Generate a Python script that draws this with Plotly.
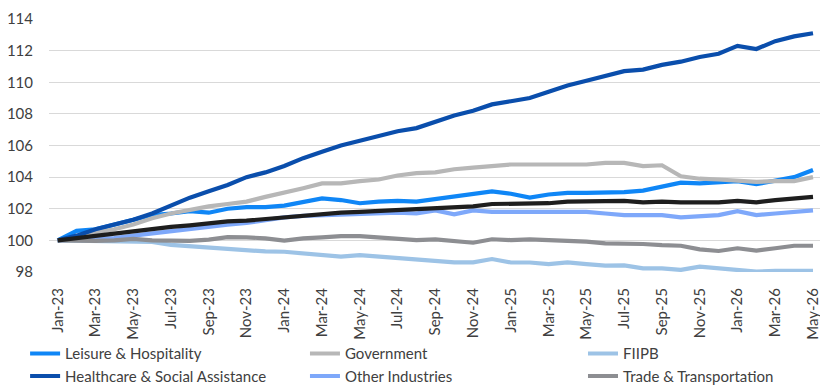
import plotly.graph_objects as go

months = ["Jan", "Feb", "Mar", "Apr", "May", "Jun", "Jul", "Aug", "Sep", "Oct", "Nov", "Dec"]
categories = [f"{months[i % 12]}-{23 + i // 12}" for i in range(41)]  # Jan-23 .. May-26
tick_labels = categories[::2]

leisure = [100.0, 100.6, 100.7, 101.0, 101.3, 101.6, 101.7, 101.85, 101.75, 102.0,
           102.1, 102.1, 102.2, 102.45, 102.65, 102.55, 102.35, 102.45, 102.5, 102.45,
           102.6, 102.75, 102.9, 103.1, 102.95, 102.7, 102.9, 103.0, 103.0, 103.0,
           103.05, 103.15, 103.4, 103.65, 103.6, 103.7, 103.75, 103.55, 103.8, 104.0, 104.45]
government = [100.0, 100.2, 100.5, 100.7, 101.0, 101.4, 101.7, 101.95, 102.15, 102.3,
              102.45, 102.75, 103.0, 103.3, 103.6, 103.6, 103.75, 103.85, 104.1, 104.25,
              104.3, 104.5, 104.6, 104.7, 104.8, 104.8, 104.8, 104.85, 104.8, 104.9,
              104.9, 104.7, 104.75, 104.05, 103.9, 103.85, 103.75, 103.7, 103.75, 103.75, 104.0]
fiipb = [100.0, 99.98, 99.98, 100.0, 99.98, 99.9, 99.72, 99.64, 99.55, 99.45,
         99.35, 99.3, 99.28, 99.18, 99.07, 98.97, 99.07, 98.97, 98.86, 98.76,
         98.67, 98.61, 98.61, 98.82, 98.6, 98.6, 98.5, 98.61, 98.5, 98.4,
         98.42, 98.23, 98.23, 98.13, 98.34, 98.23, 98.13, 98.02, 98.08, 98.08, 98.08]
healthcare = [100.0, 100.3, 100.7, 101.0, 101.3, 101.7, 102.2, 102.7, 103.1, 103.5,
              104.0, 104.3, 104.7, 105.2, 105.6, 106.0, 106.3, 106.6, 106.9, 107.1,
              107.5, 107.9, 108.2, 108.6, 108.8, 109.0, 109.4, 109.8, 110.1, 110.4,
              110.7, 110.8, 111.1, 111.3, 111.6, 111.8, 112.3, 112.1, 112.6, 112.9, 113.1]
other = [100.0, 100.05, 100.1, 100.15, 100.3, 100.45, 100.6, 100.75, 100.9, 101.0,
         101.1, 101.3, 101.45, 101.55, 101.6, 101.65, 101.65, 101.75, 101.75, 101.7,
         101.9, 101.65, 101.9, 101.8, 101.8, 101.8, 101.8, 101.8, 101.8, 101.7,
         101.6, 101.6, 101.6, 101.45, 101.55, 101.6, 101.85, 101.6, 101.7, 101.8, 101.9]
trade = [100.0, 99.97, 99.97, 100.0, 100.1, 100.0, 100.0, 99.97, 100.05, 100.2,
         100.19, 100.13, 99.98, 100.13, 100.19, 100.27, 100.27, 100.17, 100.11, 100.02,
         100.06, 99.98, 99.85, 100.07, 100.02, 100.06, 100.02, 99.98, 99.92, 99.81,
         99.81, 99.77, 99.7, 99.66, 99.43, 99.33, 99.5, 99.35, 99.5, 99.66, 99.66]
total = [100.0, 100.15, 100.25, 100.45, 100.6, 100.75, 100.85, 100.95, 101.1, 101.2,
         101.25, 101.35, 101.45, 101.55, 101.7, 101.75, 101.8, 101.85, 101.9, 101.95,
         102.05, 102.05, 102.15, 102.3, 102.3, 102.3, 102.35, 102.45, 102.45, 102.45,
         102.5, 102.4, 102.45, 102.4, 102.4, 102.4, 102.5, 102.4, 102.55, 102.65, 102.75]

# (name, values, colour, legend column)
series = [
    ("Leisure & Hospitality", leisure, "#0F86F6", "legend"),
    ("Government", government, "#B7B7B7", "legend2"),
    ("FIIPB", fiipb, "#9DC3E6", "legend3"),
    ("Healthcare & Social Assistance", healthcare, "#0A4EAC", "legend"),
    ("Other Industries", other, "#7EA8FA", "legend2"),
    ("Trade & Transportation", trade, "#8D8E92", "legend3"),
    ("Total", total, "#1E1E1E", None),
]

fig = go.Figure()
for name, vals, color, leg in series:
    kw = dict(legend=leg) if leg else dict(showlegend=False)
    fig.add_trace(go.Scatter(
        x=categories, y=vals, name=name, mode="lines",
        line=dict(color=color, width=4.2), **kw,
    ))

font_family = "Lato, 'Open Sans', sans-serif"
leg_common = dict(orientation="v", y=-0.258, xanchor="left", yanchor="top",
                  font=dict(size=15, color="#404040"), itemwidth=30,
                  bgcolor="rgba(0,0,0,0)", traceorder="normal")
fig.update_layout(
    width=820, height=387,
    margin=dict(l=49, r=0, t=19, b=115, autoexpand=False),
    paper_bgcolor="white", plot_bgcolor="white",
    font=dict(family=font_family, size=15, color="#404040"),
    legend=dict(x=-0.031, **leg_common),
    legend2=dict(x=0.332, **leg_common),
    legend3=dict(x=0.6926, **leg_common),
    showlegend=True,
)
fig.update_xaxes(
    type="category", range=[-0.46, 40.37], automargin=False,
    tickmode="array", tickvals=tick_labels, ticktext=tick_labels,
    tickangle=-90, ticks="outside", ticklen=9, tickcolor="rgba(0,0,0,0)",
    showgrid=False, showline=False, zeroline=False,
    tickfont=dict(size=15, color="#404040"),
)
fig.update_yaxes(
    range=[98, 114], tickvals=[98, 100, 102, 104, 106, 108, 110, 112, 114],
    automargin=False,
    showgrid=True, gridcolor="#D9D9D9", gridwidth=1.3,
    zeroline=False, showline=False,
    ticks="outside", ticklen=12, tickcolor="rgba(0,0,0,0)",
    tickfont=dict(size=15, color="#404040"),
)

fig.write_html("out.html")
